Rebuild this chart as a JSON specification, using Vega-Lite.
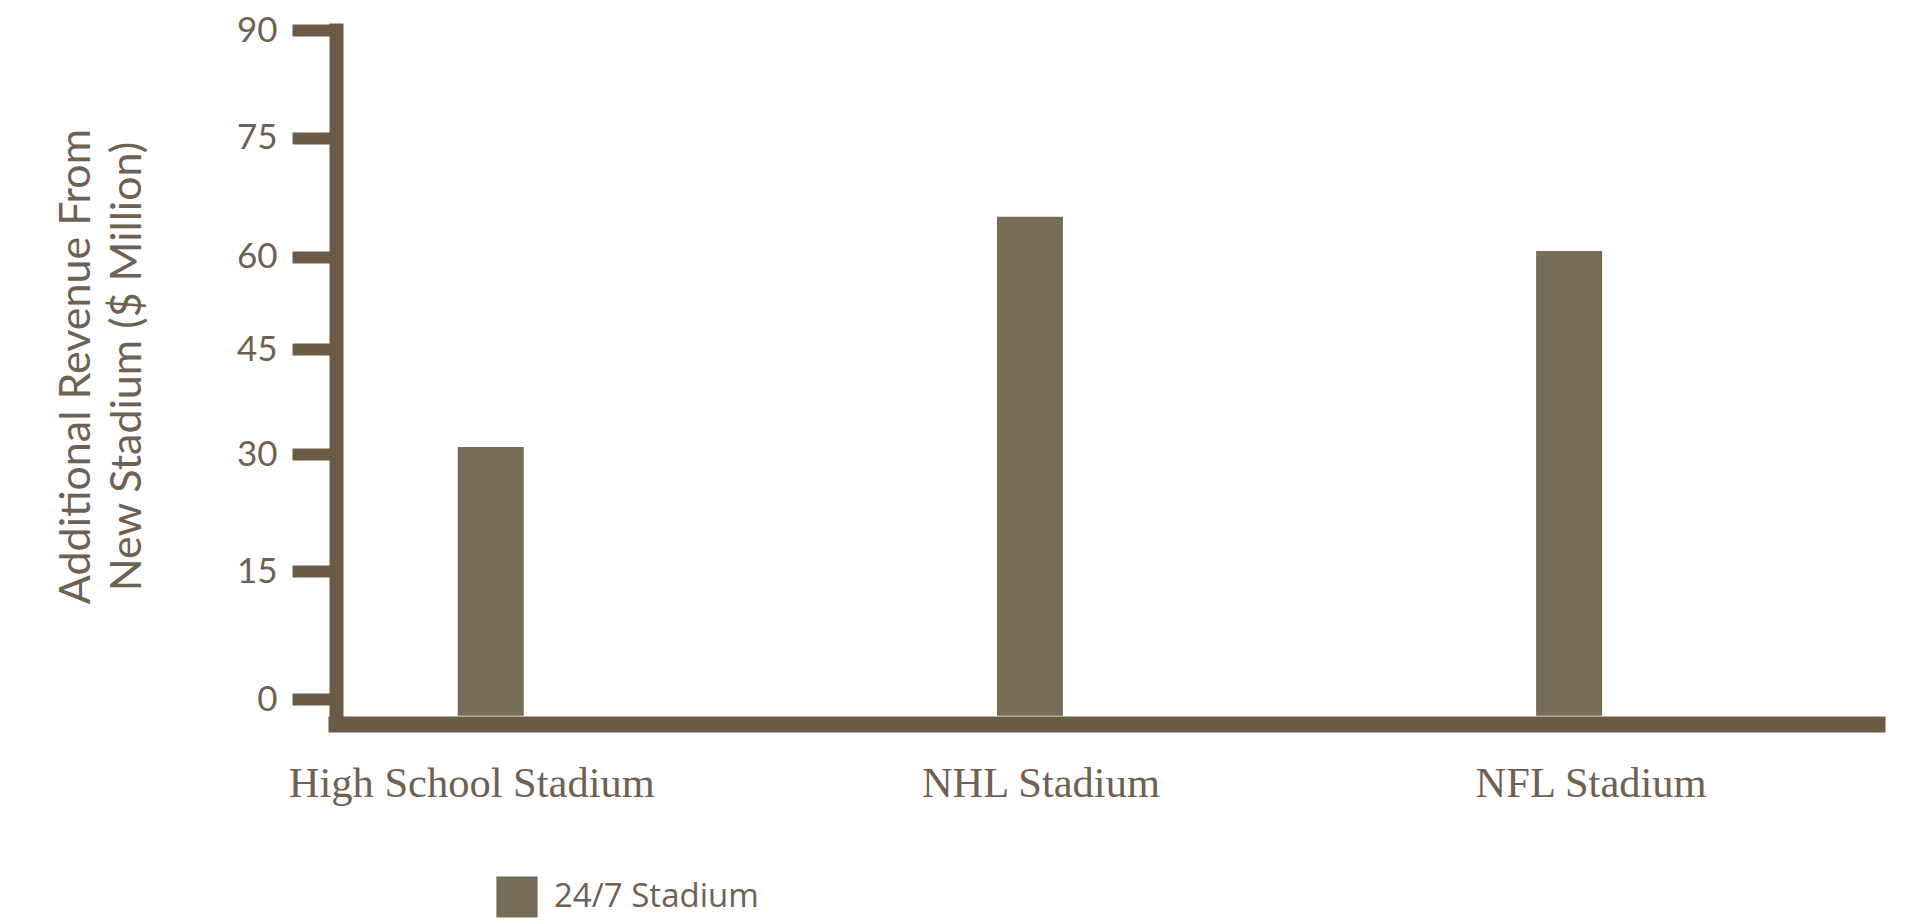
{
  "$schema": "https://vega.github.io/schema/vega-lite/v6.json",
  "autosize": {"type": "none"},
  "padding": {"left": 336, "top": 30, "right": 30, "bottom": 200},
  "width": 1541,
  "height": 694,
  "background": "white",
  "config": {"view": {"stroke": null}},
  "data": {"values": [
    {"stadium": "High School Stadium", "revenue": 31, "series": "24/7 Stadium"},
    {"stadium": "NHL Stadium", "revenue": 65, "series": "24/7 Stadium"},
    {"stadium": "NFL Stadium", "revenue": 60.7, "series": "24/7 Stadium"}
  ]},
  "mark": {"type": "bar", "width": 66},
  "encoding": {
    "x": {
      "field": "stadium", "type": "nominal", "sort": null,
      "scale": {"paddingInner": 0.426, "paddingOuter": 0.142, "align": 0},
      "axis": {
        "title": null, "labelAngle": 0, "ticks": false, "tickSize": 0,
        "labelPadding": 72, "labelBaseline": "alphabetic", "labelLimit": 0,
        "labelFont": "Liberation Serif", "labelFontSize": 42.5, "labelColor": "#6e6152",
        "domainColor": "#6b5b45", "domainWidth": 16, "domainCap": "square",
        "labelOffset": {"condition": [{"test": "datum.value === 'High School Stadium'", "value": -19}, {"test": "datum.value === 'NHL Stadium'", "value": 11}], "value": 22}
      }
    },
    "y": {
      "field": "revenue", "type": "quantitative",
      "scale": {"domain": [-3, 0, 15, 30, 45, 60, 75, 90], "range": [694, 669, 541, 424, 319, 226.5, 107.5, 0], "zero": false, "nice": false},
      "axis": {
        "title": ["Additional Revenue From", "New Stadium ($ Million)"],
        "values": [0, 15, 30, 45, 60, 75, 90],
        "grid": false,
        "tickSize": 44, "tickWidth": 12, "tickColor": "#6b5b45",
        "domainColor": "#6b5b45", "domainWidth": 14, "domainCap": "square",
        "labelPadding": 15, "labelFont": "Lato", "labelFontSize": 35, "labelColor": "#6e6152",
        "titleFont": "Lato", "titleFontSize": 43, "titleFontWeight": "normal", "titleColor": "#6e6152", "titleLimit": 0,
        "titleAngle": -90, "titleX": -247, "titleY": 336, "titleBaseline": "alphabetic", "titleAlign": "center", "titleLineHeight": 51
      }
    },
    "y2": {"datum": -2},
    "color": {
      "field": "series", "type": "nominal",
      "scale": {"range": ["#766c58"]},
      "legend": {
        "orient": "none", "legendX": 160, "legendY": 846, "title": null,
        "symbolType": "square", "symbolSize": 1700, "symbolStrokeWidth": 0,
        "labelFont": "Open Sans", "labelFontSize": 33, "labelColor": "#6e6152", "labelLimit": 0,
        "labelOffset": 16, "padding": 0
      }
    }
  }
}
